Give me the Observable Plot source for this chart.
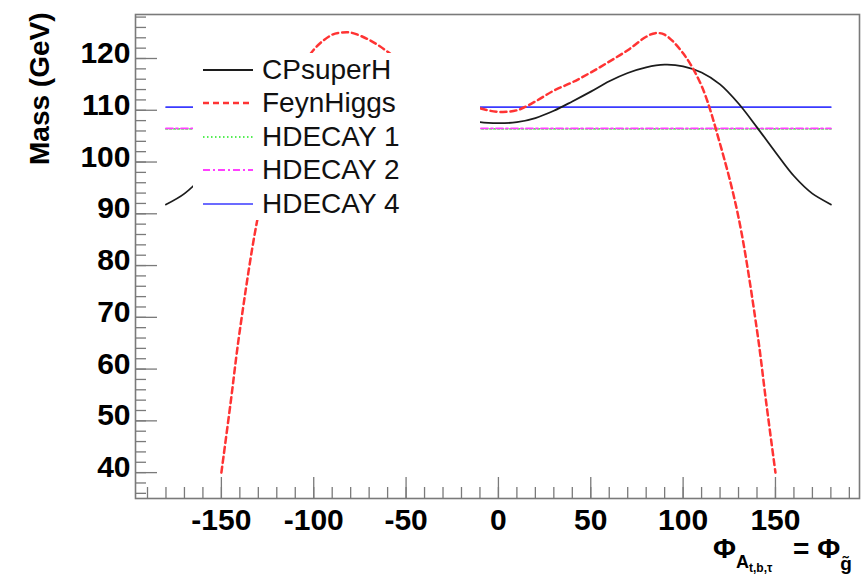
<!DOCTYPE html>
<html><head><meta charset="utf-8">
<script src="https://cdn.jsdelivr.net/npm/d3@7"></script>
<script src="https://cdn.jsdelivr.net/npm/@observablehq/plot@0.6"></script>
<style>
body{margin:0;background:#fff;}
#wrap{position:relative;width:861px;height:581px;overflow:hidden;font-family:"Liberation Sans",Arial,Helvetica,sans-serif;}
#legend{position:absolute;left:193px;top:53px;width:287px;height:167px;background:#fff;}
.row{position:absolute;left:0;height:34px;display:flex;align-items:center;}
.row svg{margin-left:10px;margin-right:9px;}
.row span{font-size:28px;color:#111;line-height:34px;}
.xl{position:absolute;top:532px;font-weight:bold;font-size:28px;white-space:nowrap;color:#000;line-height:34px;}
.xl .s1{font-size:18px;position:relative;top:10px;}
.xl .s2{font-size:12px;position:relative;top:4px;}
.xl .s3{font-size:19px;position:relative;top:12px;}
</style></head><body><div id="wrap"></div>
<script>
// ---- data ----
const phi = [-180,-170,-160,-150,-140,-130,-120,-110,-100,-90,-80,-70,-60,-50,-40,-30,-20,-10,0,10,20,30,40,50,60,70,80,90,100,110,120,130,140,150,160,170,180];
const cpsuperh = [91.8,93.9,97.3,101.9,106.7,111.3,115.0,117.3,118.5,118.8,118.3,117.2,115.6,113.6,111.7,109.9,108.5,107.7,107.5,107.7,108.5,109.9,111.7,113.6,115.6,117.2,118.3,118.8,118.5,117.3,115.0,111.3,106.7,101.9,97.3,93.9,91.8];
const feynPhi = [-150,-145,-140,-130,-120,-110,-100,-90,-85,-80,-70,-60,-50,-40,-30,-20,-10,0,10,20,30,40,50,60,70,80,85,90,100,110,120,130,140,145,150];
const feynhiggs = [40,53.5,67.5,89.8,104.5,115.5,121.7,124.6,125.0,125.0,123.6,121.3,118.3,116.0,114.0,112.0,110.4,109.7,110.0,111.7,113.8,115.4,117.3,119.4,121.6,124.2,124.9,124.6,121.0,114.7,103.5,89.3,67.5,53.5,40];
const hdecayPhi = [-180,180];
const hdecay1 = [106.4,106.4];
const hdecay2 = [106.5,106.5];
const hdecay4 = [110.6,110.6];
const seriesNames = ["CPsuperH","FeynHiggs","HDECAY 1","HDECAY 2","HDECAY 4"];
const xMajor = [-150,-100,-50,0,50,100,150];
const yMajor = [40,50,60,70,80,90,100,110,120];
const yTitle = "Mass (GeV)";

// ---- styles ----
const styles = {
  "CPsuperH": {stroke:"#1c1c1c", strokeWidth:1.8},
  "FeynHiggs": {stroke:"#ff3333", strokeWidth:2.5, strokeDasharray:"6,4"},
  "HDECAY 1": {stroke:"#55ee55", strokeWidth:1.8, strokeDasharray:"1.5,2.5"},
  "HDECAY 2": {stroke:"#ff40ff", strokeWidth:1.8, strokeDasharray:"7,3,2,3"},
  "HDECAY 4": {stroke:"#3a3aff", strokeWidth:1.6}
};

const W=861, H=581, mL=135, mR=2, mT=14, mB=83;
const fW = W-mL-mR, fH = H-mT-mB;
const xMinor = d3.range(-190, 191, 10);
const yMinor = d3.range(36, 129, 2);
const pts = (xs, ys) => xs.map((x,i)=>({x, y: ys[i]}));
const font = '"Liberation Sans",Arial,Helvetica,sans-serif';
const axisGray = "#7a7a7a";

const chart = Plot.plot({
  width: W, height: H,
  marginLeft: mL, marginRight: mR, marginTop: mT, marginBottom: mB,
  x: {domain: [-196.5, 195.5]},
  y: {domain: [35, 128.5]},
  style: {fontFamily: font, background: "white", overflow: "visible"},
  marks: [
    Plot.line(pts(hdecayPhi, hdecay1), {x:"x", y:"y", ...styles["HDECAY 1"]}),
    Plot.line(pts(hdecayPhi, hdecay2), {x:"x", y:"y", ...styles["HDECAY 2"]}),
    Plot.line(pts(hdecayPhi, hdecay4), {x:"x", y:"y", ...styles["HDECAY 4"]}),
    Plot.line(pts(phi, cpsuperh), {x:"x", y:"y", curve:"catmull-rom", ...styles["CPsuperH"]}),
    Plot.line(pts(feynPhi, feynhiggs), {x:"x", y:"y", curve:"catmull-rom", ...styles["FeynHiggs"]}),
    Plot.tickX(xMinor, {x: d=>d, insetTop: fH-11, stroke: axisGray, strokeWidth: 1.3}),
    Plot.tickX(xMajor, {x: d=>d, insetTop: fH-21, stroke: axisGray, strokeWidth: 1.3}),
    Plot.tickY(yMinor, {y: d=>d, insetRight: fW-11, stroke: axisGray, strokeWidth: 1.3}),
    Plot.tickY(yMajor, {y: d=>d, insetRight: fW-22, stroke: axisGray, strokeWidth: 1.3}),
    Plot.frame({stroke: axisGray, strokeWidth: 1.6}),
    Plot.axisX(xMajor, {tickSize: 0, tickPadding: 10, fontSize: 30, fontWeight: "bold", fill: "#000", label: null, tickFormat: d => String(d)}),
    Plot.axisY(yMajor, {tickSize: 0, tickPadding: 5, dy: -5, fontSize: 30, fontWeight: "bold", fill: "#000", label: null, tickFormat: d => String(d)}),
    Plot.text([yTitle], {text: d=>d, frameAnchor: "top-left", rotate: -90, textAnchor: "end", dx: -106, dy: -2, fontSize: 28, fontWeight: "bold", fill: "#000"})
  ]
});
const wrap = document.getElementById("wrap");
wrap.appendChild(chart);

// legend (opaque box inside the frame)
const legend = document.createElement("div");
legend.id = "legend";
seriesNames.forEach((name, i) => {
  const s = styles[name];
  const row = document.createElement("div");
  row.className = "row";
  row.style.top = (i*33.4) + "px";
  row.innerHTML = `<svg width="50" height="10"><line x1="0" y1="5" x2="50" y2="5" stroke="${s.stroke}" stroke-width="${s.strokeWidth}" ${s.strokeDasharray ? `stroke-dasharray="${s.strokeDasharray}"` : ""}/></svg><span>${name}</span>`;
  legend.appendChild(row);
});
wrap.appendChild(legend);

// x-axis title (two pieces, ROOT-style spacing)
const xl1 = document.createElement("div");
xl1.className = "xl"; xl1.style.left = "713px";
xl1.innerHTML = 'Φ<span class="s1">A<span class="s2">t,b,τ</span></span>';
wrap.appendChild(xl1);
const xl2 = document.createElement("div");
xl2.className = "xl"; xl2.style.left = "793px";
xl2.innerHTML = '= Φ<span class="s3">g̃</span>';
wrap.appendChild(xl2);
</script></body></html>
